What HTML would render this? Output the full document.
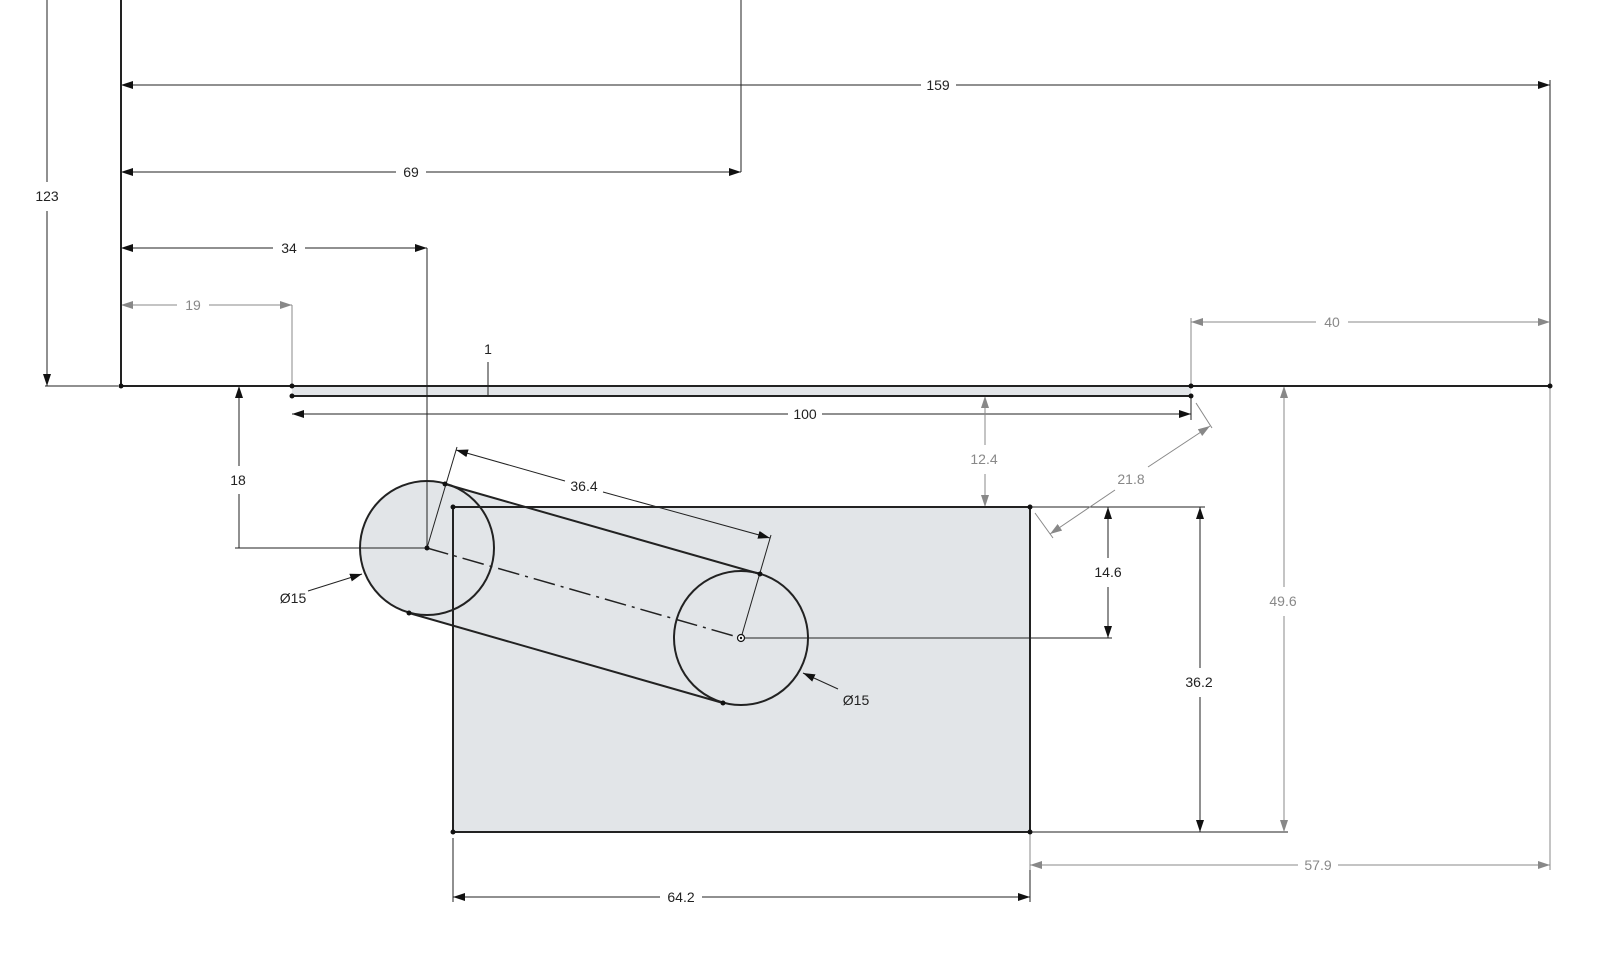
<!DOCTYPE html>
<html><head><style>
html,body{margin:0;padding:0;background:#fff;}
svg{display:block;}
text{font-family:"Liberation Sans",sans-serif;font-size:14px;text-anchor:middle;dominant-baseline:central;}
.k{fill:#222;} .g{fill:#888;}
</style></head><body>
<svg width="1600" height="957" viewBox="0 0 1600 957" xmlns="http://www.w3.org/2000/svg">
<defs>
<marker id="a" viewBox="0 0 12 8" refX="12" refY="4" markerWidth="12" markerHeight="8" markerUnits="userSpaceOnUse" orient="auto-start-reverse"><path d="M0,0L12,4L0,8z" fill="#111"/></marker>
<marker id="ag" viewBox="0 0 12 8" refX="12" refY="4" markerWidth="12" markerHeight="8" markerUnits="userSpaceOnUse" orient="auto-start-reverse"><path d="M0,0L12,4L0,8z" fill="#888"/></marker>
</defs>
<!-- fills -->
<rect x="292" y="386" width="899" height="10" fill="#e2e5e8"/>
<rect x="453" y="507" width="577" height="325" fill="#e2e5e8"/>
<circle cx="427" cy="548" r="67" fill="#e2e5e8"/>
<circle cx="741" cy="638" r="67" fill="#e2e5e8"/>
<polygon points="445,484 760,574 723,703 409,613" fill="#e2e5e8"/>

<!-- thin black extension/dimension lines -->
<g stroke="#222" stroke-width="1" fill="none">
<line x1="741" y1="0" x2="741" y2="172"/>
<line x1="1550" y1="80" x2="1550" y2="386"/>
<line x1="427" y1="248" x2="427" y2="548"/>
<line x1="488" y1="362" x2="488" y2="396"/>
<line x1="235" y1="548" x2="427" y2="548"/>
<line x1="427" y1="548" x2="457" y2="447"/>
<line x1="741" y1="638" x2="771" y2="535"/>
<line x1="741" y1="638" x2="1112" y2="638"/>
<line x1="1030" y1="507" x2="1205" y2="507"/>
<line x1="1030" y1="832" x2="1288" y2="832"/>
<line x1="453" y1="838" x2="453" y2="902"/>
<line x1="1030" y1="838" x2="1030" y2="902"/>
<line x1="1191" y1="396" x2="1191" y2="420"/>
<line x1="121" y1="85" x2="921" y2="85" marker-start="url(#a)"/>
<line x1="956" y1="85" x2="1550" y2="85" marker-end="url(#a)"/>
<line x1="121" y1="172" x2="396" y2="172" marker-start="url(#a)"/>
<line x1="426" y1="172" x2="741" y2="172" marker-end="url(#a)"/>
<line x1="121" y1="248" x2="273" y2="248" marker-start="url(#a)"/>
<line x1="305" y1="248" x2="427" y2="248" marker-end="url(#a)"/>
<line x1="47" y1="0" x2="47" y2="182"/>
<line x1="47" y1="211" x2="47" y2="386" marker-end="url(#a)"/>
<line x1="45" y1="386" x2="118" y2="386"/>
<line x1="292" y1="414" x2="788" y2="414" marker-start="url(#a)"/>
<line x1="822" y1="414" x2="1191" y2="414" marker-end="url(#a)"/>
<line x1="239" y1="386" x2="239" y2="466" marker-start="url(#a)"/>
<line x1="239" y1="494" x2="239" y2="548"/>
<line x1="456" y1="450" x2="565" y2="481" marker-start="url(#a)"/>
<line x1="603" y1="492" x2="770" y2="538" marker-end="url(#a)"/>
<line x1="1108" y1="507" x2="1108" y2="558" marker-start="url(#a)"/>
<line x1="1108" y1="587" x2="1108" y2="638" marker-end="url(#a)"/>
<line x1="1200" y1="507" x2="1200" y2="668" marker-start="url(#a)"/>
<line x1="1200" y1="697" x2="1200" y2="832" marker-end="url(#a)"/>
<line x1="453" y1="897" x2="660" y2="897" marker-start="url(#a)"/>
<line x1="702" y1="897" x2="1030" y2="897" marker-end="url(#a)"/>
<line x1="308" y1="591" x2="362" y2="574" marker-end="url(#a)"/>
<line x1="838" y1="689" x2="803" y2="673" marker-end="url(#a)"/>
</g>
<!-- gray dims -->
<g stroke="#888" stroke-width="1" fill="none">
<line x1="292" y1="305" x2="292" y2="386"/>
<line x1="121" y1="305" x2="177" y2="305" marker-start="url(#ag)"/>
<line x1="209" y1="305" x2="292" y2="305" marker-end="url(#ag)"/>
<line x1="1191" y1="318" x2="1191" y2="386"/>
<line x1="1191" y1="322" x2="1316" y2="322" marker-start="url(#ag)"/>
<line x1="1348" y1="322" x2="1550" y2="322" marker-end="url(#ag)"/>
<line x1="985" y1="396" x2="985" y2="445" marker-start="url(#ag)"/>
<line x1="985" y1="474" x2="985" y2="507" marker-end="url(#ag)"/>
<line x1="1196" y1="403" x2="1212" y2="428"/>
<line x1="1035" y1="513" x2="1053" y2="538"/>
<line x1="1210" y1="426" x2="1148" y2="467" marker-start="url(#ag)"/>
<line x1="1115" y1="490" x2="1050" y2="534" marker-end="url(#ag)"/>
<line x1="1284" y1="386" x2="1284" y2="587" marker-start="url(#ag)"/>
<line x1="1284" y1="616" x2="1284" y2="832" marker-end="url(#ag)"/>
<line x1="1550" y1="386" x2="1550" y2="870"/>
<line x1="1030" y1="832" x2="1030" y2="870"/>
<line x1="1030" y1="865" x2="1298" y2="865" marker-start="url(#ag)"/>
<line x1="1338" y1="865" x2="1550" y2="865" marker-end="url(#ag)"/>
</g>
<!-- geometry -->
<g stroke="#222" stroke-width="2" fill="none">
<line x1="121" y1="0" x2="121" y2="386"/>
<line x1="121" y1="386" x2="1550" y2="386"/>
<line x1="292" y1="396" x2="1191" y2="396"/>
<rect x="453" y="507" width="577" height="325"/>
<circle cx="427" cy="548" r="67"/>
<circle cx="741" cy="638" r="67"/>
<line x1="445" y1="484" x2="760" y2="574"/>
<line x1="409" y1="613" x2="723" y2="703"/>
</g>
<line x1="427" y1="548" x2="741" y2="638" stroke="#222" stroke-width="1.5" stroke-dasharray="22,6,3,6"/>
<g fill="#111">
<circle cx="121" cy="386" r="2.5"/><circle cx="292" cy="386" r="2.5"/><circle cx="292" cy="396" r="2.5"/>
<circle cx="1191" cy="386" r="2.5"/><circle cx="1191" cy="396" r="2.5"/><circle cx="1550" cy="386" r="2.5"/>
<circle cx="453" cy="507" r="2.5"/><circle cx="1030" cy="507" r="2.5"/><circle cx="453" cy="832" r="2.5"/><circle cx="1030" cy="832" r="2.5"/>
<circle cx="427" cy="548" r="2.5"/><circle cx="445" cy="484" r="2.5"/><circle cx="760" cy="574" r="2.5"/><circle cx="409" cy="613" r="2.5"/><circle cx="723" cy="703" r="2.5"/>
</g>
<circle cx="741" cy="638" r="3.5" fill="#fff" stroke="#111" stroke-width="1.2"/><circle cx="741" cy="638" r="1.2" fill="#111"/>
<!-- labels -->
<text class="k" x="938" y="85">159</text>
<text class="k" x="411" y="172">69</text>
<text class="k" x="289" y="248">34</text>
<text class="g" x="193" y="305">19</text>
<text class="k" x="47" y="196">123</text>
<text class="k" x="488" y="349">1</text>
<text class="k" x="805" y="414">100</text>
<text class="g" x="1332" y="322">40</text>
<text class="k" x="238" y="480">18</text>
<text class="k" x="584" y="486">36.4</text>
<text class="g" x="984" y="459">12.4</text>
<text class="g" x="1131" y="479">21.8</text>
<text class="k" x="1108" y="572">14.6</text>
<text class="k" x="1199" y="682">36.2</text>
<text class="g" x="1283" y="601">49.6</text>
<text class="g" x="1318" y="865">57.9</text>
<text class="k" x="681" y="897">64.2</text>
<text class="k" x="293" y="598">Ø15</text>
<text class="k" x="856" y="700">Ø15</text>
</svg>
</body></html>
